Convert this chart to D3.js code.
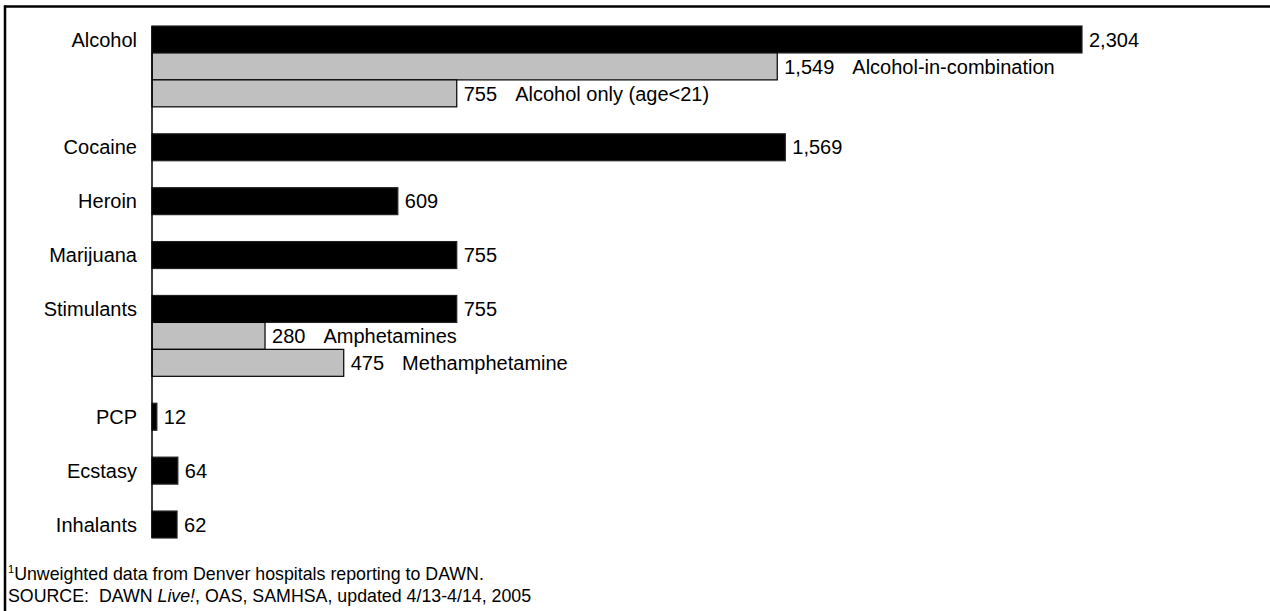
<!DOCTYPE html>
<html>
<head>
<meta charset="utf-8">
<script src="https://cdn.jsdelivr.net/npm/d3@7"></script>
<style>
  html, body { margin: 0; padding: 0; background: #fff; }
  svg { display: block; font-family: "Liberation Sans", Arial, sans-serif; }
</style>
</head>
<body>
<svg id="chart" width="1270" height="611"></svg>
<script>
// Data
const barNames = ["Alcohol", "Alcohol-in-combination", "Alcohol only (age<21)", "Cocaine", "Heroin",
  "Marijuana", "Stimulants", "Amphetamines", "Methamphetamine", "PCP", "Ecstasy", "Inhalants"];
const barValues = [2304, 1549, 755, 1569, 609, 755, 755, 280, 475, 12, 64, 62];
const isSubItem = [false, true, true, false, false, false, false, true, true, false, false, false];
const footnoteLine1 = "Unweighted data from Denver hospitals reporting to DAWN.";
const footnoteSup = "1";

// Build rows: a blank slot before each new main category (except the first)
const rows = [];
let slot = 0;
barNames.forEach((name, i) => {
  if (!isSubItem[i] && i > 0) slot += 1;
  rows.push({ name, value: barValues[i], sub: isSubItem[i], slot });
  slot += 1;
});
const nSlots = slot;

const svg = d3.select("#chart");
const fmt = d3.format(",");
const fontSize = 20;

const x = d3.scaleLinear().domain([0, d3.max(barValues)]).range([152, 1082]);
const y = d3.scaleBand().domain(d3.range(nSlots)).range([26, 538]).padding(0);

// Frame lines (top and left)
svg.append("line").attr("x1", 4).attr("x2", 1270).attr("y1", 6.5).attr("y2", 6.5)
  .attr("stroke", "#000").attr("stroke-width", 2.5);
svg.append("line").attr("x1", 5).attr("x2", 5).attr("y1", 5.5).attr("y2", 611)
  .attr("stroke", "#000").attr("stroke-width", 2.5);

// Bars
svg.append("g").selectAll("rect").data(rows).join("rect")
  .attr("x", x(0))
  .attr("y", d => y(d.slot))
  .attr("width", d => x(d.value) - x(0))
  .attr("height", y.bandwidth())
  .attr("fill", d => d.sub ? "#c0c0c0" : "#000")
  .attr("stroke", d => d.sub ? "#000" : "#222")
  .attr("stroke-width", 1.2);

// Axis line
svg.append("line").attr("x1", x(0)).attr("x2", x(0))
  .attr("y1", y(0)).attr("y2", y(nSlots - 1) + y.bandwidth())
  .attr("stroke", "#000").attr("stroke-width", 1.5);

// Category labels
svg.append("g").selectAll("text").data(rows.filter(d => !d.sub)).join("text")
  .attr("x", 137)
  .attr("y", d => y(d.slot) + y.bandwidth() / 2)
  .attr("dy", "0.36em")
  .attr("text-anchor", "end")
  .attr("font-size", fontSize)
  .attr("fill", "#000")
  .text(d => d.name);

// Value labels (+ sub-item names)
const vl = svg.append("g").selectAll("text").data(rows).join("text")
  .attr("x", d => x(d.value) + 7)
  .attr("y", d => y(d.slot) + y.bandwidth() / 2)
  .attr("dy", "0.36em")
  .attr("font-size", fontSize)
  .attr("fill", "#000");
vl.append("tspan").text(d => fmt(d.value));
vl.filter(d => d.sub).append("tspan").attr("dx", 18).text(d => d.name);

// Footnotes
const fn1 = svg.append("text").attr("x", 8).attr("y", 580).attr("font-size", 17.8);
fn1.append("tspan").attr("font-size", 11).attr("dy", -7).text(footnoteSup);
fn1.append("tspan").attr("dy", 7).text(footnoteLine1);

const fn2 = svg.append("text").attr("x", 8).attr("y", 602).attr("font-size", 17.8)
  .attr("xml:space", "preserve");
fn2.append("tspan").text("SOURCE:  DAWN ");
fn2.append("tspan").attr("font-style", "italic").text("Live!");
fn2.append("tspan").text(", OAS, SAMHSA, updated 4/13-4/14, 2005");
</script>
</body>
</html>
